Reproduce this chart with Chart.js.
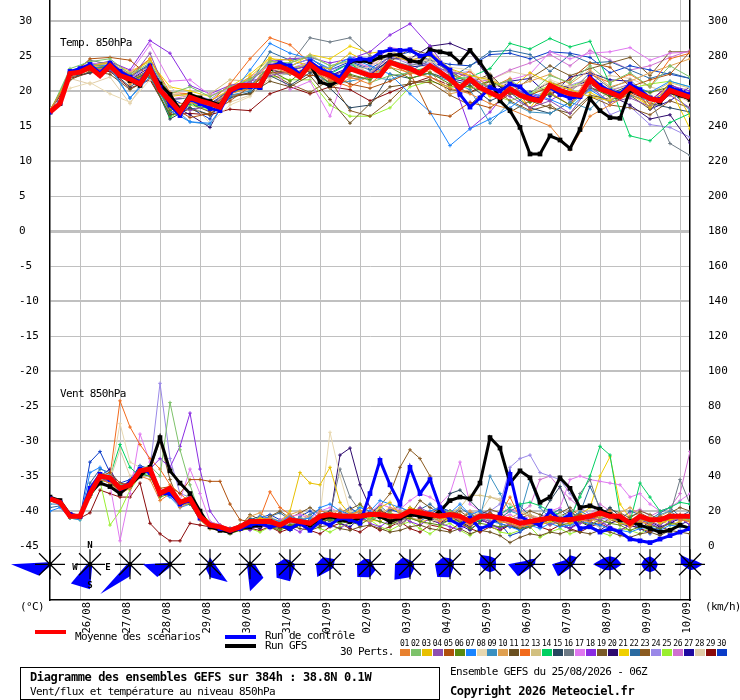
<!DOCTYPE html>
<html>
    <head>
        <title>GEFS 850hPa</title>
        <meta charset="utf-8" />
        <script src="https://cdn.jsdelivr.net/npm/chart.js@4.4.1/dist/chart.umd.min.js"></script>
        <style>
            * {
                margin: 0;
                padding: 0;
                box-sizing: border-box;
            }
            body {
                background-color: #ffffff;
                width: 740px;
                height: 700px;
                position: relative;
                overflow: hidden;
                color: #000;
            }
            #wrap {
                position: absolute;
                left: 0;
                top: 0;
                width: 740px;
                height: 700px;
            }
            .t {
                position: absolute;
                white-space: nowrap;
                font: 11px "DejaVu Sans Mono", monospace;
                letter-spacing: -0.65px;
                line-height: 12px;
            }
            .b {
                font-weight: bold;
                font-size: 12px;
                letter-spacing: -0.4px;
            }
            .bar {
                position: absolute;
            }
            #box {
                position: absolute;
                left: 20px;
                top: 667px;
                width: 420px;
                height: 33px;
                border: 1.5px solid #000;
            }
            .num {
                position: absolute;
                top: 639px;
                font: 8px "DejaVu Sans Mono", monospace;
                letter-spacing: -0.4px;
                line-height: 9px;
            }
            .sw {
                position: absolute;
                top: 649px;
                width: 10px;
                height: 7px;
            }
        </style>
    </head>
    <body>

        <div id="wrap"><canvas id="myChart" width="740" height="700"></canvas></div>

        <div class="t" style="left:60px; top:37px;">Temp. 850hPa</div>
        <div class="t" style="left:60px; top:388px;">Vent 850hPa</div>
        <div class="t" style="left:20px; top:601px;">(°C)</div>
        <div class="t" style="left:705px; top:601px;">(km/h)</div>

        <div class="bar" style="left:35px; top:630px; width:31px; height:4px; background:#ff0000;"></div>
        <div class="t" style="left:75px; top:631px;">Moyenne des scénarios</div>
        <div class="bar" style="left:225px; top:635px; width:31px; height:3.5px; background:#0000ff;"></div>
        <div class="t" style="left:265px; top:630px;">Run de contrôle</div>
        <div class="bar" style="left:225px; top:644px; width:31px; height:3.5px; background:#000000;"></div>
        <div class="t" style="left:265px; top:640px;">Run GFS</div>
        <div class="t" style="left:340px; top:646px;">30 Perts.</div>

        <div id="box"></div>
        <div class="t b" style="left:30px; top:671px;">Diagramme des ensembles GEFS sur 384h : 38.8N 0.1W</div>
        <div class="t" style="left:30px; top:686px;">Vent/flux et température au niveau 850hPa</div>
        <div class="t" style="left:450px; top:666px;">Ensemble GEFS du 25/08/2026 - 06Z</div>
        <div class="t b" style="left:450px; top:685px;">Copyright 2026 Meteociel.fr</div>

        <div id="swatches"></div>

        <script>
            // x axis: hours after 25/08 06Z, one point every 6h (members of the temp panel every 12h)
            const dayLabels = ['26/08','27/08','28/08','29/08','30/08','31/08','01/09','02/09',
                               '03/09','04/09','05/09','06/09','07/09','08/09','09/09','10/09'];

            const memberColors = ['#e8812f','#7dc26a','#e8c000','#8e4fb0','#b0500c','#5a8a10','#1a85ff','#e8d8b0','#3a90c0','#e0a050',
                                  '#6b5020','#f26a1b','#d2c080','#00d060','#27465f','#6d7a85','#e078f0','#8a2be2','#7a5a28','#2e0a6e',
                                  '#f0d000','#2a6aa0','#8a5a20','#9a88e8','#9aee30','#d070d0','#1f0aa0','#e0cca8','#8a0a0a','#0a3cc8'];

            // temperature 850hPa (°C), 6-hourly
            const tempMean = [17.0,18.2,22.5,22.7,23.4,22.2,23.6,22.2,21.7,21.0,23.2,20.1,18.6,17.0,19.1,18.6,18.2,17.7,20.1,20.8,
                              20.8,20.8,23.4,23.5,22.9,22.0,23.8,22.7,22.2,21.3,23.2,22.7,22.2,22.2,24.1,23.6,23.2,22.5,23.6,22.7,
                              21.7,20.4,21.7,20.5,19.8,19.1,20.3,19.4,18.9,18.6,20.8,20.1,19.6,19.4,21.7,20.3,19.8,19.2,20.5,19.6,
                              18.9,18.6,20.1,19.6,19.1];
            const tempCtrl = [17.0,18.3,22.8,23.2,23.8,22.6,24.0,22.8,22.0,21.3,23.6,20.5,18.0,16.5,18.8,18.2,17.5,17.2,19.8,20.5,
                              20.6,20.5,23.5,24.0,23.6,22.4,24.2,23.2,22.5,22.0,24.3,24.6,24.5,25.5,25.9,25.8,25.9,25.0,25.3,24.0,
                              23.0,19.5,17.7,19.0,20.5,20.0,21.0,20.6,19.2,18.8,20.5,19.5,19.0,19.2,22.0,20.8,20.0,19.6,21.0,20.2,
                              19.0,18.8,20.5,20.0,19.5];
            const tempGfs = [17.0,18.2,22.5,22.7,23.3,22.4,23.7,22.2,21.5,20.8,23.0,21.0,19.5,17.3,19.5,19.0,18.5,18.0,20.0,20.7,
                             20.8,20.5,23.2,23.8,23.0,22.3,23.8,21.3,20.8,21.5,24.2,24.3,24.2,24.8,25.1,25.2,24.3,24.1,25.9,25.6,
                             25.3,24.1,25.8,24.1,22.0,18.6,17.2,14.8,11.0,11.0,13.6,13.0,11.8,14.5,18.9,17.2,16.2,16.1,20.1,19.6,
                             19.0,18.4,19.9,19.4,18.8];

            // 30 perturbations, 12-hourly
            const tempPerts = [
                [17.2,22.0,23.0,23.4,21.0,22.6,18.0,18.4,17.6,19.6,20.4,23.6,22.4,23.0,21.6,22.0,21.0,23.4,22.6,22.0,20.4,19.6,18.2,17.4,16.2,15.0,11.6,16.4,18.0,19.6,18.2,20.6,19.2],
                [17.0,23.2,24.2,24.6,22.4,24.0,19.6,20.6,19.2,20.6,21.6,24.2,24.0,25.0,23.6,24.4,21.2,22.2,22.6,23.2,22.2,21.6,20.6,21.6,19.6,22.2,21.2,23.6,21.2,22.6,20.6,23.6,22.0],
                [17.1,22.6,23.6,24.0,22.0,24.6,19.2,19.6,18.6,20.2,22.0,24.6,24.4,23.6,23.2,25.4,24.0,25.2,24.2,25.6,23.2,22.2,21.6,20.2,22.6,21.2,20.2,19.2,18.6,20.6,17.6,21.2,16.4],
                [17.0,22.2,23.2,23.0,21.6,25.4,18.4,17.2,18.0,19.6,21.4,22.2,22.8,23.8,21.8,23.6,22.4,25.0,24.6,23.6,22.8,22.0,20.4,19.2,17.6,18.6,16.8,20.6,18.4,19.0,17.8,19.4,17.6],
                [17.3,22.0,24.6,24.8,24.4,22.0,18.0,16.2,16.8,18.6,20.6,22.6,22.6,22.2,22.4,21.0,20.4,21.4,22.6,16.8,16.4,18.4,17.6,19.6,19.4,20.6,21.6,24.0,23.4,20.6,21.6,22.4,25.6],
                [17.0,22.4,23.2,23.2,21.4,22.8,17.2,18.4,17.6,19.8,20.6,23.0,21.4,23.6,21.0,22.4,21.6,23.4,21.8,22.6,21.0,20.6,21.4,20.0,18.4,19.6,18.0,20.6,19.2,20.6,19.8,20.6,19.6],
                [17.0,22.8,23.8,23.6,19.0,22.0,17.2,15.6,15.4,19.2,23.0,26.8,25.4,24.6,23.2,24.8,23.6,22.4,19.6,17.0,12.2,14.6,16.0,17.6,19.8,18.8,17.6,20.2,18.4,21.0,19.8,21.4,20.6],
                [17.4,20.4,21.2,19.6,18.4,21.6,20.6,18.4,15.4,18.0,19.2,22.4,22.6,23.4,22.0,23.0,23.4,25.6,24.8,24.2,23.4,23.0,20.6,21.2,19.6,21.6,20.6,21.2,18.8,20.4,18.4,19.6,20.6],
                [17.0,22.6,23.4,23.2,19.0,22.4,18.0,15.6,15.2,19.4,20.0,22.6,22.4,23.0,21.0,21.4,22.0,21.6,22.8,22.4,21.4,20.2,15.4,18.4,17.0,16.8,18.4,17.4,20.2,19.4,18.6,20.2,17.2],
                [17.2,22.2,23.6,24.2,21.0,22.6,17.4,18.4,17.8,20.0,20.2,24.4,23.2,23.8,20.4,21.8,21.8,24.4,22.6,22.8,19.6,20.2,21.6,20.4,21.4,22.4,21.0,23.0,20.6,21.4,22.6,23.6,24.6],
                [17.0,21.6,22.8,22.4,20.2,21.8,16.6,17.4,16.6,19.2,19.6,21.4,20.6,22.2,18.8,15.4,18.2,20.6,21.0,21.6,20.2,19.8,20.8,17.0,18.6,17.6,16.8,19.4,18.8,19.4,17.4,19.6,18.8],
                [17.2,22.4,23.6,23.6,22.4,24.6,19.8,19.6,18.4,21.0,24.6,27.6,26.6,24.0,21.6,20.6,22.2,24.0,22.4,23.6,21.4,22.8,20.4,21.8,17.4,19.8,18.0,22.4,21.2,22.4,20.6,24.6,25.4],
                [17.0,22.4,23.4,24.0,22.6,24.4,19.6,19.2,19.6,21.6,21.4,24.2,24.0,25.2,23.6,24.2,22.4,25.8,24.2,24.6,23.2,21.6,22.0,20.0,19.2,21.4,20.2,22.0,20.2,20.8,19.6,21.2,20.4],
                [17.0,22.4,23.2,23.6,21.2,22.0,16.4,18.2,17.4,19.6,20.6,23.6,23.2,23.8,22.4,24.0,21.8,24.4,22.8,23.4,21.6,22.0,23.2,26.8,26.0,27.5,26.3,27.1,21.0,13.6,12.9,15.5,16.8],
                [17.0,22.0,22.6,23.0,20.6,22.4,16.0,17.6,16.6,19.0,19.8,22.2,20.8,22.6,20.4,17.6,18.0,22.4,21.8,22.6,21.6,20.8,18.6,19.8,17.6,16.8,18.4,20.4,19.6,20.8,18.2,17.6,17.0],
                [17.0,22.6,24.4,23.8,22.2,23.6,18.8,19.0,18.0,20.2,21.8,23.2,23.8,27.6,27.0,27.6,25.0,24.4,23.6,24.4,22.8,21.2,20.8,21.4,18.4,20.2,19.8,22.6,20.4,21.6,19.0,12.5,10.8],
                [17.0,22.8,24.0,23.8,22.6,26.6,21.4,21.6,19.4,20.4,22.0,23.6,20.2,21.4,16.4,24.4,23.4,25.4,24.0,25.8,22.8,22.2,20.2,21.6,22.4,25.6,24.6,25.4,25.6,26.2,24.4,25.4,25.6],
                [17.0,22.6,23.8,24.2,23.0,27.2,25.4,20.8,19.6,20.8,21.4,24.2,24.6,24.8,24.0,24.6,25.6,28.0,29.6,26.4,22.6,14.6,17.0,20.4,19.6,18.6,20.4,21.4,20.0,21.0,18.6,20.8,20.0],
                [17.0,22.2,23.0,23.2,21.2,22.6,17.6,18.2,17.0,19.8,20.4,23.0,22.6,22.8,21.2,22.2,21.6,24.2,26.0,25.2,22.4,21.2,22.4,19.6,21.8,23.6,22.2,23.2,24.0,24.8,22.2,25.6,25.6],
                [17.0,22.4,23.2,23.4,21.4,22.8,18.2,16.6,14.8,20.2,20.6,23.0,22.4,23.4,22.2,23.0,22.2,24.6,24.6,26.4,26.8,25.6,21.6,19.6,19.8,21.2,20.4,21.6,19.4,18.0,16.0,16.6,12.6],
                [17.2,22.6,23.6,24.2,22.8,24.2,20.6,20.0,19.2,20.6,22.4,24.8,23.4,25.2,24.6,26.4,25.4,25.8,24.4,25.0,22.6,21.4,19.2,20.4,17.6,21.2,19.4,19.8,18.4,19.6,17.8,20.4,14.6],
                [17.0,22.8,23.8,24.2,22.2,23.8,18.4,17.4,17.8,20.4,21.0,25.6,24.4,24.8,22.6,24.0,23.0,24.0,22.8,24.4,21.8,23.6,25.6,25.8,25.2,22.8,25.2,24.0,24.2,23.0,21.8,22.6,21.8],
                [17.0,22.2,23.4,23.4,21.6,23.0,16.8,18.6,18.0,19.4,19.6,22.6,21.0,19.8,21.6,17.2,16.4,18.6,21.4,21.2,19.4,18.0,20.8,18.6,17.2,18.0,16.2,19.2,18.0,17.6,16.6,18.6,17.6],
                [17.0,22.6,23.8,23.8,21.6,24.0,19.4,19.6,18.8,20.8,21.2,24.0,23.6,24.6,23.0,23.8,22.6,25.0,23.8,24.0,22.4,22.8,19.4,21.0,19.0,20.2,20.8,21.8,16.6,17.8,15.2,14.8,13.4],
                [17.0,22.4,23.4,23.4,21.2,22.8,16.2,18.0,17.2,20.0,20.4,22.2,21.6,21.6,18.0,16.4,16.4,17.6,20.6,21.4,20.6,20.6,19.6,18.6,19.6,20.8,20.6,21.8,19.6,20.4,21.0,21.4,20.6],
                [17.0,22.6,23.6,23.8,21.8,23.6,18.8,19.4,18.6,20.0,20.6,23.6,23.2,24.2,21.6,22.8,23.6,26.2,25.8,24.2,22.4,21.2,21.6,23.0,24.0,25.2,23.6,25.8,24.4,23.0,23.6,24.8,25.8],
                [17.0,22.4,23.2,23.6,21.6,23.4,18.8,19.0,18.2,20.0,20.8,23.4,23.0,23.6,22.2,23.4,22.4,24.4,23.4,23.8,21.8,21.2,19.4,21.4,21.8,19.2,22.0,22.6,21.6,21.4,17.4,18.6,20.6],
                [17.4,21.8,21.0,22.0,18.2,22.6,17.6,18.2,17.6,18.4,19.4,21.8,22.6,22.8,21.4,23.2,23.8,24.2,23.6,23.4,20.4,21.6,21.6,22.8,22.2,21.2,20.2,21.4,22.2,21.8,20.6,19.8,18.4],
                [17.0,21.8,22.6,22.8,20.4,21.6,16.6,16.8,16.6,17.4,17.2,19.6,20.6,19.6,20.6,20.2,18.6,19.8,21.0,22.0,20.8,19.8,21.4,19.8,18.6,19.6,20.6,21.0,19.2,19.8,18.6,21.0,19.4],
                [17.0,22.8,23.8,24.0,22.0,23.8,19.0,17.6,16.0,20.6,21.2,24.4,23.6,24.6,23.0,24.2,23.2,24.8,25.6,24.4,23.8,23.6,25.2,25.4,24.6,25.6,25.4,24.8,22.6,23.6,23.0,22.4,21.8]
            ];

            // wind 850hPa (km/h, right axis), 6-hourly
            const windMean = [27,25,17,17,30,40,39,33,35,43,44,30,33,25,27,17,12,11,9,11,
                              14,14,14,12,15,14,13,17,18,17,17,17,18,18,17,17,20,19,18,17,
                              18,17,14,17,17,16,15,13,14,15,16,15,15,16,17,19,17,17,13,17,
                              15,15,17,17,17];
            const windCtrl = [27,25,18,17,33,41,38,33,36,44,42,30,30,24,26,16,12,10,9,10,
                              12,13,11,12,10,13,9,14,12,16,15,13,30,49,35,24,45,30,38,22,
                              15,12,16,10,12,18,41,17,14,12,20,15,18,10,11,8,10,8,4,3,
                              2,4,6,8,10];
            const windGfs = [28,26,18,17,30,36,34,30,35,40,45,62,43,36,30,20,11,9,8,10,
                             11,12,14,12,10,13,12,15,17,15,14,16,18,17,14,16,18,17,16,20,
                             26,28,27,36,62,56,36,43,39,25,28,39,33,22,23,21,18,15,14,12,
                             10,8,9,12,10];

            const windPerts = [
                [27,26,18,16,28,38,36,30,33,40,38,26,30,22,25,15,10,9,8,10,13,15,16,13,16,15,12,20,19,16,18,20,22,17,15,18,19,16,17,14,17,15,12,16,18,14,13,11,12,14,18,13,16,15,14,17,20,16,11,14,12,16,18,15,14],
                [28,25,16,16,30,42,40,35,34,44,46,40,82,55,35,18,12,10,8,11,12,14,13,12,15,13,14,16,17,15,16,18,15,17,19,16,18,17,15,18,20,16,13,17,16,17,14,12,15,13,16,14,17,15,18,16,18,14,12,16,13,15,18,16,15],
                [27,24,17,17,31,40,38,34,36,42,44,30,34,26,26,17,12,11,9,12,14,16,15,13,20,42,36,35,45,25,18,20,16,22,25,18,22,20,17,16,15,18,14,17,16,14,16,13,14,12,14,16,13,15,17,19,16,13,12,14,16,13,15,16,14],
                [27,25,18,17,29,38,37,32,34,43,45,30,32,24,28,16,11,10,9,10,13,13,14,12,14,12,13,15,18,16,17,15,19,16,17,14,18,22,19,16,17,15,13,16,14,15,12,11,13,14,12,15,14,13,16,15,17,13,12,15,14,12,16,15,14],
                [28,26,17,16,32,40,42,36,35,44,45,33,34,30,38,38,37,37,24,15,14,13,15,12,16,14,13,18,17,19,16,18,17,20,18,16,19,21,18,17,20,18,15,17,19,16,14,13,15,16,17,15,16,18,17,20,16,15,13,16,14,17,15,18,16],
                [26,25,17,17,30,38,36,32,33,41,40,28,30,24,24,15,10,9,7,9,10,12,11,9,12,13,11,14,15,13,14,12,16,14,12,15,16,14,13,12,15,14,10,13,12,11,12,10,11,13,15,12,13,14,12,15,13,12,9,11,12,10,13,12,11],
                [20,22,16,15,42,45,40,34,36,45,42,30,28,22,24,16,12,10,9,10,12,17,16,14,17,15,16,22,24,20,18,22,20,26,24,22,20,18,20,22,19,24,18,20,14,13,11,9,12,10,13,11,12,14,13,12,10,9,8,10,11,9,12,11,10],
                [28,26,18,17,30,40,38,70,48,45,40,32,30,24,25,18,12,10,9,11,13,14,15,12,14,13,14,18,65,40,20,18,16,22,18,17,19,16,15,14,18,17,13,16,15,17,14,12,13,15,16,18,15,14,16,18,15,17,12,14,16,13,17,15,14],
                [24,24,17,16,31,41,40,35,36,42,43,31,33,25,26,17,12,11,10,12,14,15,14,12,15,16,14,17,18,17,16,17,19,16,18,17,21,19,17,16,18,17,15,16,40,30,20,18,38,22,16,18,15,20,17,19,18,15,13,16,14,18,20,16,17],
                [27,25,18,17,30,39,38,33,35,43,44,29,32,25,27,17,12,11,9,11,17,19,15,14,18,20,16,13,17,21,19,15,14,18,22,20,16,15,19,23,18,16,20,17,14,13,16,19,17,15,12,14,18,21,16,13,15,19,22,18,14,17,20,16,15],
                [28,26,18,17,30,40,39,33,35,43,44,30,32,24,27,17,12,11,9,11,13,12,11,10,12,10,9,11,12,10,9,11,12,10,8,9,11,12,10,9,8,10,7,9,8,6,2,5,7,6,8,7,9,8,7,9,8,6,5,7,8,6,9,8,7],
                [27,25,17,16,30,38,40,83,68,58,50,44,35,30,25,16,12,11,9,10,13,16,31,22,18,14,13,15,17,16,15,17,18,16,17,18,21,19,18,16,18,17,14,16,17,18,28,16,14,15,17,16,15,14,17,16,18,17,13,17,14,16,18,17,16],
                [27,25,17,17,30,40,38,33,35,43,44,30,33,25,27,17,12,11,9,11,11,13,16,14,12,15,17,14,19,21,16,13,15,18,14,12,16,20,17,15,19,22,29,29,28,26,24,20,18,16,13,15,17,14,12,16,19,15,11,14,17,13,15,18,16],
                [27,25,17,16,28,36,40,58,45,40,42,30,30,24,26,17,12,11,9,11,13,12,13,11,14,12,13,15,16,14,15,16,16,17,15,16,18,17,16,15,17,16,13,15,16,18,22,24,25,23,20,18,16,28,40,57,52,18,14,36,28,20,22,25,24],
                [26,24,16,16,29,39,37,32,34,42,43,29,31,23,26,16,11,10,8,10,15,17,14,13,16,15,11,18,20,16,14,19,17,21,16,14,22,20,18,15,30,32,26,20,18,16,15,13,14,16,26,34,20,15,16,18,22,17,13,17,15,14,17,16,16],
                [27,25,17,17,31,41,37,31,35,44,43,30,32,24,27,17,12,11,9,11,14,13,15,12,16,14,12,17,18,44,28,20,18,17,16,17,19,18,17,16,20,18,14,17,16,15,14,13,14,15,16,15,15,30,38,20,17,14,14,17,16,15,18,38,24],
                [27,25,17,17,30,40,35,3,30,64,48,30,33,26,44,30,14,12,9,11,14,16,15,14,17,18,16,20,22,19,18,20,19,24,22,21,26,30,28,24,30,48,24,20,18,16,18,15,17,16,20,22,38,40,38,37,36,35,28,30,24,20,22,26,30],
                [27,25,17,17,31,41,38,33,36,44,44,50,45,57,76,44,20,12,10,11,9,12,10,14,11,8,13,15,12,10,14,17,13,11,15,18,14,12,16,13,11,9,14,16,12,10,13,15,11,14,16,12,10,13,17,14,11,9,12,15,13,10,14,16,12],
                [27,25,17,17,30,39,38,33,35,43,44,60,38,24,26,17,12,11,9,11,18,15,17,20,16,19,22,18,15,17,21,24,19,16,20,23,18,26,22,19,17,20,16,18,21,19,15,17,20,18,16,19,22,17,15,18,21,19,16,20,18,15,19,22,20],
                [28,26,17,18,31,39,40,34,37,42,45,31,33,25,28,18,13,11,10,12,12,10,14,11,9,13,15,12,16,52,56,35,22,18,14,12,16,19,15,13,17,14,11,15,13,10,12,9,11,13,16,12,10,14,11,9,13,15,12,10,14,11,13,16,12],
                [26,25,18,17,32,41,38,31,36,42,46,29,31,26,25,16,11,12,9,10,14,13,12,10,15,13,12,16,15,14,16,18,15,14,19,17,16,14,15,13,16,14,12,15,17,14,13,11,12,14,16,15,17,18,22,40,51,24,16,14,13,15,12,14,17],
                [22,23,17,16,36,44,42,34,37,45,43,31,32,25,26,17,13,11,9,11,16,14,17,19,15,12,18,21,17,14,20,16,19,23,18,15,17,21,24,19,16,22,18,15,19,16,20,23,17,14,18,21,16,19,34,22,17,15,20,18,15,19,22,17,20],
                [27,25,17,17,29,39,37,32,35,43,44,30,31,24,26,17,12,11,9,11,15,13,16,14,12,15,17,13,16,19,15,14,18,23,30,45,55,50,40,22,18,16,19,15,13,17,14,16,18,15,13,17,20,16,14,18,15,13,17,19,16,14,15,17,16],
                [27,25,17,17,30,40,38,33,35,43,44,93,50,30,28,17,12,11,9,11,13,15,12,14,16,13,15,18,17,15,18,16,19,17,15,18,21,18,16,19,17,15,14,18,20,24,45,50,52,42,40,38,30,22,18,16,15,17,14,12,16,13,18,15,17],
                [26,24,16,15,28,37,12,20,32,40,42,30,34,25,30,19,14,12,10,12,10,8,11,13,9,12,14,10,8,11,13,24,15,11,9,12,14,10,7,11,13,9,6,10,12,8,7,9,11,5,8,10,7,9,12,8,6,10,9,7,11,8,10,12,9],
                [28,25,17,16,29,41,39,34,36,41,44,32,33,24,29,18,13,12,10,11,14,16,13,15,18,14,12,17,19,16,14,18,15,20,17,14,19,22,17,15,18,16,20,17,14,18,21,19,23,38,40,33,27,22,18,24,20,16,19,21,17,20,22,30,54],
                [27,25,17,17,33,40,44,33,36,43,44,30,32,24,27,17,12,11,9,11,12,14,11,13,16,12,10,15,17,13,11,16,14,18,15,12,17,20,16,13,15,12,9,14,16,13,11,10,12,14,17,13,15,18,14,12,16,13,11,15,13,10,14,12,15],
                [27,25,17,17,30,40,38,55,40,43,44,30,32,24,27,17,12,11,9,11,15,13,17,14,12,16,18,15,13,17,20,16,14,18,15,13,17,14,12,16,18,15,17,19,28,27,16,14,13,15,17,14,12,16,13,11,15,14,12,16,13,15,17,14,16],
                [28,26,17,16,19,32,30,28,28,36,13,7,3,3,13,12,11,10,8,9,10,9,11,8,10,12,9,7,11,13,10,8,12,9,11,14,10,8,12,11,9,13,10,8,11,9,12,10,14,11,9,12,10,8,11,13,10,9,12,10,8,11,9,12,10],
                [27,25,17,16,48,54,42,36,38,46,44,32,30,26,24,17,12,11,9,11,13,16,18,15,12,17,20,16,14,19,22,18,15,17,21,19,16,14,18,22,20,17,15,19,16,13,6,8,12,15,18,14,10,16,13,11,15,18,14,10,7,12,16,14,18]
            ];

            // wind roses, one per day at 06Z: lengths towards N, NE, E, SE, S, SW, W, NW
            const roseLengths = [
                [1,0,0,0,2,16,39,3],
                [2,2,2,3,25,27,3,2],
                [2,2,2,2,12,42,3,2],
                [3,3,1,2,3,18,27,2],
                [7,4,5,25,13,6,3,3],
                [4,2,5,19,27,4,4,2],
                [4,3,5,6,17,19,14,8],
                [6,7,4,5,6,18,14,10],
                [5,3,3,8,13,18,13,8],
                [4,4,4,6,13,22,15,10],
                [6,5,4,5,13,18,15,10],
                [8,8,6,8,8,8,11,13],
                [5,8,5,3,4,17,22,5],
                [9,10,4,3,4,17,18,6],
                [8,9,12,7,6,8,17,9],
                [8,7,8,8,8,8,9,8],
                [5,6,13,7,6,5,9,13]
            ];

            const ROSE_LEVEL = -47.6;   // left-axis value of the rose row
            const Y_MIN = -52.7, Y_MAX = 33;

            const kmhToAxis = w => (w - 180) / 4;
            const toPoints = (vals, step, conv) => vals.map((v, i) => ({x: i * step, y: conv ? conv(v) : v}));

            // swatches 01..30
            const swBox = document.getElementById('swatches');
            memberColors.forEach((c, k) => {
                const left = 400 + k * 10.93;
                const n = document.createElement('div');
                n.className = 'num';
                n.style.left = left + 'px';
                n.textContent = String(k + 1).padStart(2, '0');
                swBox.appendChild(n);
                const s = document.createElement('div');
                s.className = 'sw';
                s.style.left = left + 'px';
                s.style.background = c;
                swBox.appendChild(s);
            });

            const datasets = [];
            const mainLine = (vals, color, width, order, conv) => ({
                data: toPoints(vals, 6, conv),
                borderColor: color,
                backgroundColor: color,
                borderWidth: width,
                pointRadius: order === 0 ? 0 : 1.2,
                pointStyle: 'rect',
                order: order
            });
            datasets.push(mainLine(tempMean, '#ff0000', 5, 0));
            datasets.push(mainLine(tempCtrl, '#0000ff', 3, 1));
            datasets.push(mainLine(tempGfs, '#000000', 3, 2));
            datasets.push(mainLine(windMean, '#ff0000', 5, 0, kmhToAxis));
            datasets.push(mainLine(windCtrl, '#0000ff', 3, 1, kmhToAxis));
            datasets.push(mainLine(windGfs, '#000000', 3, 2, kmhToAxis));

            tempPerts.forEach((vals, k) => {
                datasets.push({
                    data: toPoints(vals, 12),
                    borderColor: memberColors[k],
                    backgroundColor: memberColors[k],
                    borderWidth: 1,
                    pointRadius: 1.8,
                    pointBorderWidth: 1,
                    pointStyle: 'cross',
                    order: 3
                });
            });
            windPerts.forEach((vals, k) => {
                datasets.push({
                    data: toPoints(vals, 6, kmhToAxis),
                    borderColor: memberColors[k],
                    backgroundColor: memberColors[k],
                    borderWidth: 1,
                    pointRadius: 1.8,
                    pointBorderWidth: 1,
                    pointStyle: 'cross',
                    order: 3
                });
            });

            const yTicks = s => {
                const t = [];
                for (let v = -45; v <= 30; v += 5) t.push({value: v});
                s.ticks = t;
            };

            const rosePlugin = {
                id: 'roses',
                afterDatasetsDraw(chart) {
                    const ctx = chart.ctx;
                    const xs = chart.scales.x, ys = chart.scales.y;
                    const cy = ys.getPixelForValue(ROSE_LEVEL);
                    ctx.save();
                    roseLengths.forEach((lens, k) => {
                        const cx = xs.getPixelForValue(k * 24);
                        ctx.beginPath();
                        lens.forEach((len, d) => {
                            const a = d * Math.PI / 4;
                            const px = cx + len * Math.sin(a), py = cy - len * Math.cos(a);
                            if (d === 0) ctx.moveTo(px, py); else ctx.lineTo(px, py);
                        });
                        ctx.closePath();
                        ctx.fillStyle = '#0000ff';
                        ctx.fill();

                        ctx.strokeStyle = '#000';
                        ctx.lineWidth = 1.2;
                        ctx.beginPath();
                        ctx.moveTo(cx - 15, cy); ctx.lineTo(cx + 15, cy);
                        ctx.moveTo(cx, cy - 15); ctx.lineTo(cx, cy + 15);
                        ctx.moveTo(cx - 11, cy - 11); ctx.lineTo(cx + 11, cy + 11);
                        ctx.moveTo(cx - 11, cy + 11); ctx.lineTo(cx + 11, cy - 11);
                        ctx.stroke();
                        ctx.beginPath();
                        ctx.arc(cx, cy, 2.2, 0, 2 * Math.PI);
                        ctx.fillStyle = '#000';
                        ctx.fill();

                        if (k === 1) {
                            ctx.font = 'bold 9px "DejaVu Sans Mono"';
                            ctx.textAlign = 'center';
                            ctx.textBaseline = 'middle';
                            ctx.fillText('N', cx, cy - 19);
                            ctx.fillText('W', cx - 15, cy + 3);
                            ctx.fillText('E', cx + 18, cy + 3);
                            ctx.fillText('S', cx, cy + 21);
                        }
                    });
                    ctx.restore();
                }
            };

            const tickFont = {family: '"DejaVu Sans Mono", monospace', size: 11};

            const chartConfig = {
                type: 'line',
                data: {datasets},
                options: {
                    responsive: false,
                    animation: false,
                    layout: {autoPadding: false, padding: {left: 19, top: 0, right: 0, bottom: 0}},
                    elements: {line: {tension: 0}},
                    plugins: {
                        legend: {display: false},
                        tooltip: {enabled: false}
                    },
                    scales: {
                        x: {
                            type: 'linear',
                            min: 0,
                            max: 384,
                            afterBuildTicks: s => { s.ticks = dayLabels.map((d, k) => ({value: 18 + 24 * k})); },
                            afterFit: s => { s.height = 100; s.paddingLeft = 0; s.paddingRight = 0; },
                            ticks: {
                                autoSkip: false,
                                minRotation: 90,
                                maxRotation: 90,
                                padding: 2,
                                labelOffset: 7,
                                color: '#000',
                                font: {family: '"DejaVu Sans Mono", monospace', size: 10.5},
                                callback: (v, i) => dayLabels[i]
                            },
                            grid: {color: '#c0c0c0', lineWidth: 1, drawTicks: false},
                            border: {color: '#000', width: 1.5}
                        },
                        y: {
                            position: 'left',
                            min: Y_MIN,
                            max: Y_MAX,
                            afterBuildTicks: yTicks,
                            afterFit: s => { s.width = 31; s.paddingTop = 0; s.paddingBottom = 0; },
                            ticks: {crossAlign: 'far', color: '#000', font: tickFont, callback: v => v},
                            grid: {
                                color: '#c0c0c0',
                                drawTicks: false,
                                lineWidth: c => (c.tick && c.tick.value === 0) ? 3 : ((c.tick && c.tick.value % 10 === 0) ? 2 : 1)
                            },
                            border: {color: '#000', width: 1.5}
                        },
                        y2: {
                            position: 'right',
                            min: Y_MIN,
                            max: Y_MAX,
                            afterBuildTicks: yTicks,
                            afterFit: s => { s.width = 50; s.paddingTop = 0; s.paddingBottom = 0; },
                            ticks: {padding: 18, color: '#000', font: tickFont, callback: v => 4 * v + 180},
                            grid: {display: false, drawTicks: false},
                            border: {color: '#000', width: 1.5}
                        }
                    }
                },
                plugins: [rosePlugin]
            };

            Chart.defaults.font.family = '"DejaVu Sans Mono", monospace';
            var myChart = new Chart(document.getElementById('myChart'), chartConfig);
        </script>
    </body>
</html>
